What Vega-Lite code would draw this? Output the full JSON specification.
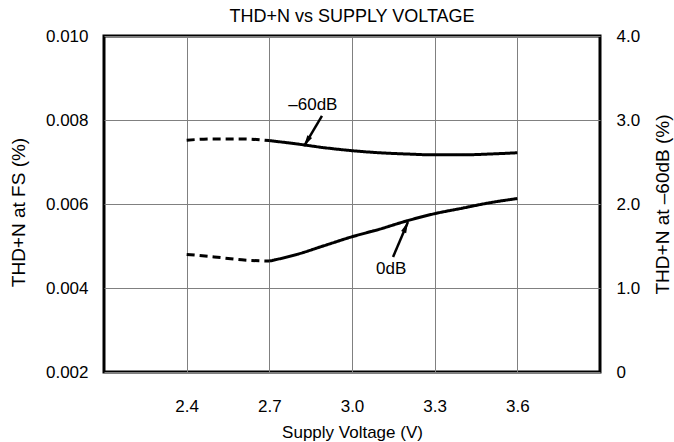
{
  "$schema": "https://vega.github.io/schema/vega-lite/v6.json",
  "width": 496,
  "height": 336,
  "autosize": "none",
  "padding": {"left": 104, "top": 36, "right": 74, "bottom": 70},
  "background": "white",
  "title": {"text": "THD+N vs SUPPLY VOLTAGE", "fontSize": 18, "fontWeight": "normal", "font": "Liberation Sans", "color": "black", "offset": 1},
  "config": {
    "font": "Liberation Sans",
    "view": {"stroke": "black", "strokeWidth": 3},
    "axis": {"labelFont": "Liberation Sans", "titleFont": "Liberation Sans", "labelColor": "black", "titleColor": "black", "titleFontWeight": "normal", "gridColor": "#808080", "gridWidth": 1, "gridOpacity": 1}
  },
  "layer": [
    {
      "layer": [
        {
          "data": {"values": [
            {"v": 2.4, "thd": 0.0048, "seg": "dashed"},
            {"v": 2.5, "thd": 0.00474, "seg": "dashed"},
            {"v": 2.6, "thd": 0.00467, "seg": "dashed"},
            {"v": 2.7, "thd": 0.00464, "seg": "dashed"},
            {"v": 2.7, "thd": 0.00464, "seg": "solid"},
            {"v": 2.8, "thd": 0.0048, "seg": "solid"},
            {"v": 2.9, "thd": 0.00501, "seg": "solid"},
            {"v": 3.0, "thd": 0.00522, "seg": "solid"},
            {"v": 3.1, "thd": 0.0054, "seg": "solid"},
            {"v": 3.2, "thd": 0.0056, "seg": "solid"},
            {"v": 3.3, "thd": 0.00577, "seg": "solid"},
            {"v": 3.4, "thd": 0.0059, "seg": "solid"},
            {"v": 3.5, "thd": 0.00603, "seg": "solid"},
            {"v": 3.6, "thd": 0.00613, "seg": "solid"}
          ]},
          "mark": {"type": "line", "color": "black", "strokeWidth": 3, "interpolate": "monotone"},
          "encoding": {
            "x": {"field": "v", "type": "quantitative", "scale": {"domain": [2.1, 3.9], "nice": false, "zero": false},
                  "axis": {"values": [2.4, 2.7, 3.0, 3.3, 3.6], "format": ".1f", "grid": true, "ticks": false, "domain": false, "labelPadding": 26, "labelFontSize": 17, "title": "Supply Voltage (V)", "titleFontSize": 17, "titlePadding": 10}},
            "y": {"field": "thd", "type": "quantitative", "scale": {"domain": [0.002, 0.010], "nice": false, "zero": false},
                  "axis": {"values": [0.002, 0.004, 0.006, 0.008, 0.010], "format": ".3f", "grid": true, "ticks": false, "domain": false, "labelPadding": 16, "labelFontSize": 17, "title": "THD+N at FS (%)", "titleFontSize": 19, "titlePadding": 17, "titleY": 176}},
            "strokeDash": {"field": "seg", "type": "nominal", "scale": {"domain": ["dashed", "solid"], "range": [[8, 5], [1, 0]]}, "legend": null}
          }
        },
        {
          "data": {"values": [
            {"v": 2.891, "thd": 0.00810, "v2": 2.826, "thd2": 0.00738},
            {"v": 3.149, "thd": 0.00474, "v2": 3.203, "thd2": 0.00557}
          ]},
          "mark": {"type": "rule", "color": "black", "strokeWidth": 2.5},
          "encoding": {
            "x": {"field": "v", "type": "quantitative"},
            "y": {"field": "thd", "type": "quantitative"},
            "x2": {"field": "v2"},
            "y2": {"field": "thd2"}
          }
        },
        {
          "data": {"values": [
            {"v": 2.826, "thd": 0.00738, "ang": 211},
            {"v": 3.203, "thd": 0.00557, "ang": 23}
          ]},
          "mark": {"type": "point", "shape": "M0,0L-0.55,2.2L0.55,2.2Z", "filled": true, "color": "black", "opacity": 1, "size": 100},
          "encoding": {
            "x": {"field": "v", "type": "quantitative"},
            "y": {"field": "thd", "type": "quantitative"},
            "angle": {"field": "ang", "type": "quantitative", "scale": null}
          }
        },
        {
          "data": {"values": [
            {"v": 2.858, "thd": 0.00836, "label": "–60dB"},
            {"v": 3.142, "thd": 0.00445, "label": "0dB"}
          ]},
          "mark": {"type": "text", "fontSize": 17, "color": "black", "font": "Liberation Sans"},
          "encoding": {
            "x": {"field": "v", "type": "quantitative"},
            "y": {"field": "thd", "type": "quantitative"},
            "text": {"field": "label"}
          }
        }
      ]
    },
    {
      "data": {"values": [
        {"v": 2.4, "db": 2.76, "seg": "dashed"},
        {"v": 2.5, "db": 2.775, "seg": "dashed"},
        {"v": 2.6, "db": 2.775, "seg": "dashed"},
        {"v": 2.7, "db": 2.755, "seg": "dashed"},
        {"v": 2.7, "db": 2.755, "seg": "solid"},
        {"v": 2.8, "db": 2.715, "seg": "solid"},
        {"v": 2.9, "db": 2.67, "seg": "solid"},
        {"v": 3.0, "db": 2.635, "seg": "solid"},
        {"v": 3.1, "db": 2.61, "seg": "solid"},
        {"v": 3.2, "db": 2.595, "seg": "solid"},
        {"v": 3.3, "db": 2.585, "seg": "solid"},
        {"v": 3.4, "db": 2.585, "seg": "solid"},
        {"v": 3.5, "db": 2.595, "seg": "solid"},
        {"v": 3.6, "db": 2.61, "seg": "solid"}
      ]},
      "mark": {"type": "line", "color": "black", "strokeWidth": 3, "interpolate": "monotone"},
      "encoding": {
        "x": {"field": "v", "type": "quantitative"},
        "y": {"field": "db", "type": "quantitative", "scale": {"domain": [0, 4], "nice": false},
              "axis": {"orient": "right", "values": [0, 1, 2, 3, 4], "labelExpr": "datum.value == 0 ? '0' : format(datum.value, '.1f')", "grid": false, "ticks": false, "domain": false, "labelPadding": 16, "labelFontSize": 17, "title": "THD+N at –60dB (%)", "titleFontSize": 19, "titleAngle": 270, "titleBaseline": "top", "titlePadding": 14}},
        "strokeDash": {"field": "seg", "type": "nominal", "scale": {"domain": ["dashed", "solid"], "range": [[8, 5], [1, 0]]}, "legend": null}
      }
    }
  ],
  "resolve": {"scale": {"y": "independent"}}
}
